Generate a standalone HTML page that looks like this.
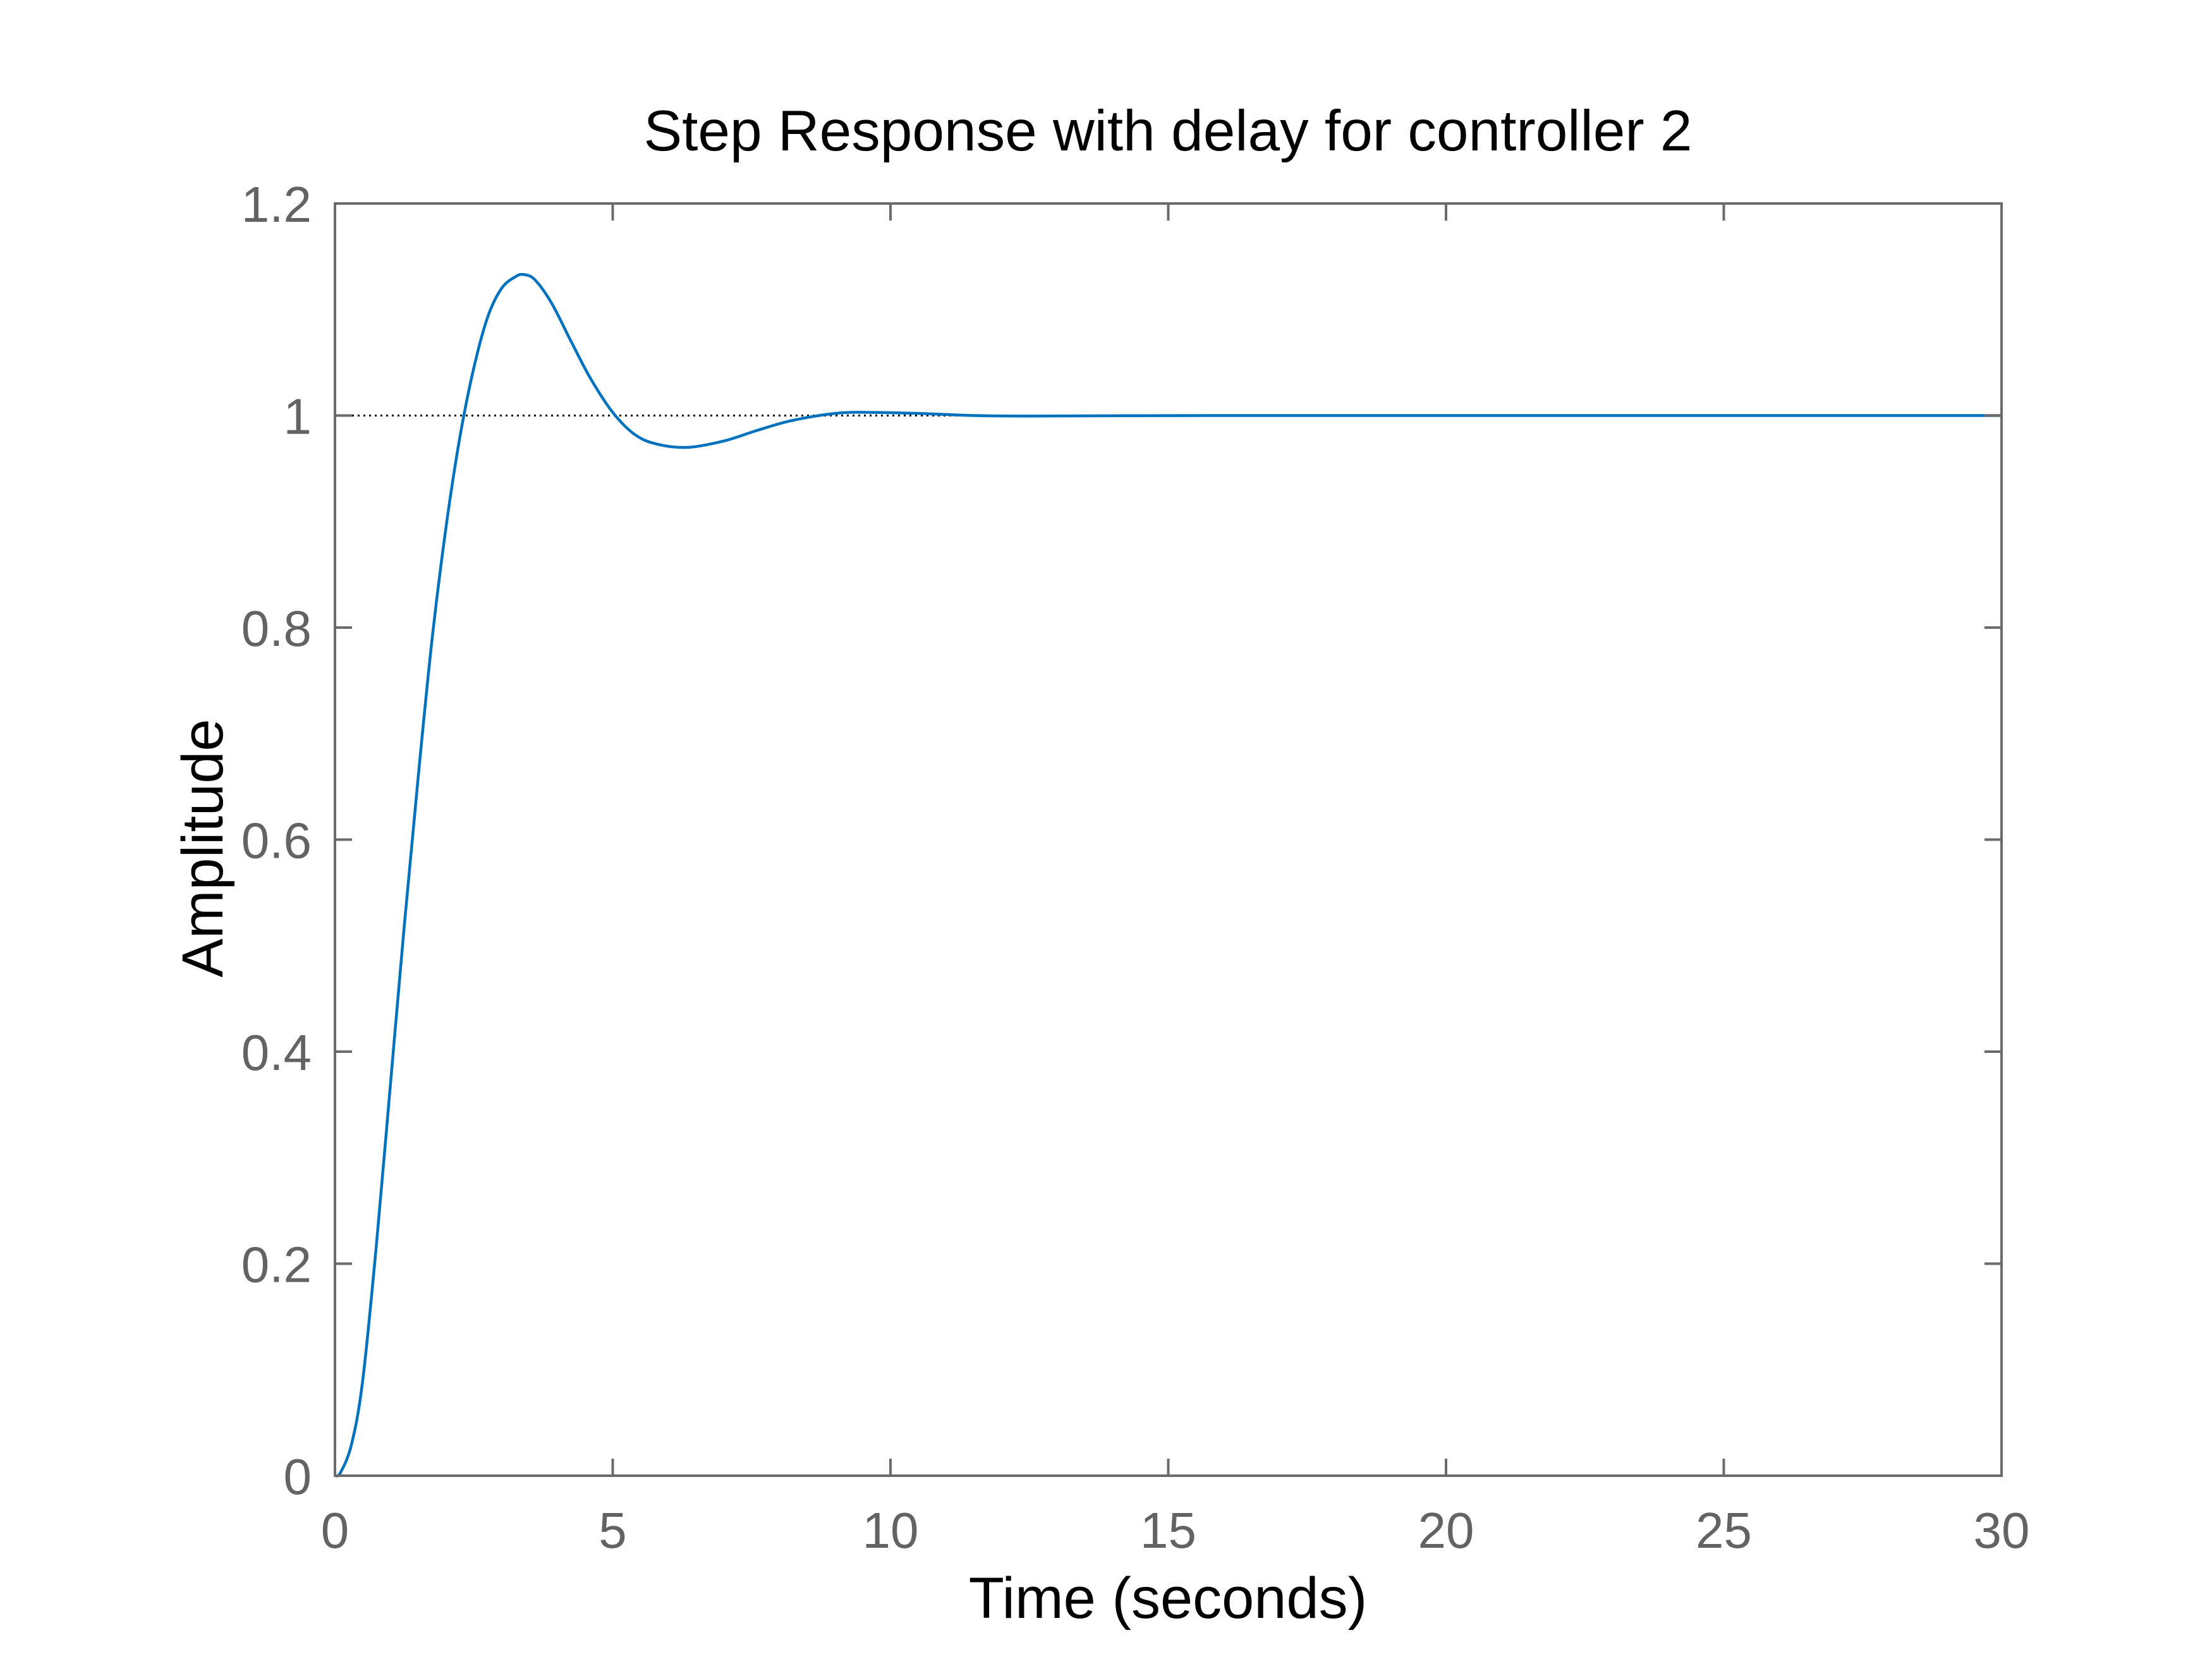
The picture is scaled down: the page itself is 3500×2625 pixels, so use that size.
<!DOCTYPE html>
<html><head><meta charset="utf-8">
<style>
html,body{margin:0;padding:0;background:#fff;}
svg{display:block;font-family:"Liberation Sans",Arial,sans-serif;}
</style></head>
<body>
<svg id="chart" width="3500" height="2625" viewBox="0 0 3500 2625" xmlns="http://www.w3.org/2000/svg">
<rect width="3500" height="2625" fill="#fff"/>
<g id="series"></g>
<g id="axes"></g>
<text x="1848" y="238" font-size="91" text-anchor="middle" fill="#000">Step Response with delay for controller 2</text>
<text x="1848" y="2560" font-size="92" text-anchor="middle" fill="#000">Time (seconds)</text>
<text transform="translate(352,1342) rotate(-90)" font-size="92" text-anchor="middle" fill="#000">Amplitude</text>
</svg>
<script>
const xTicks=[0,5,10,15,20,25,30];
const yTicks=[0,0.2,0.4,0.6,0.8,1,1.2];
const yTickLabels=["0","0.2","0.4","0.6","0.8","1","1.2"];
const timeValues=[0,0.1,0.3,0.5,0.75,1,1.25,1.5,1.75,2,2.25,2.5,2.75,3,3.25,3.4,3.6,3.9,4.25,4.6,5,5.4,5.8,6.35,7,7.6,8.2,9,9.6,10.5,11.5,12.5,14,16,20,25,30];
const amplitudeValues=[0,0.003,0.03,0.09,0.22,0.37,0.52,0.66,0.79,0.895,0.98,1.045,1.093,1.12,1.131,1.133,1.128,1.106,1.07,1.035,1.003,0.982,0.973,0.970,0.976,0.986,0.995,1.002,1.003,1.002,1.0,0.9995,0.9998,1,1,1,1];
const steadyState=1;

const L=530,R=3167,T=322,B=2335,xMax=30,yMax=1.2;
const sx=v=>L+(v/xMax)*(R-L);
const sy=v=>B-(v/yMax)*(B-T);
const NS="http://www.w3.org/2000/svg";
function mk(tag,attrs,parent){const e=document.createElementNS(NS,tag);for(const k in attrs)e.setAttribute(k,attrs[k]);parent.appendChild(e);return e;}
const axes=document.getElementById('axes'),series=document.getElementById('series');
const AX="#6b6b6b";

const ss=mk('line',{x1:sx(0),x2:sx(xMax),y1:sy(steadyState),y2:sy(steadyState),stroke:'#000','stroke-width':3,'stroke-dasharray':'3,6'},series);



const P=timeValues.map((t,i)=>[sx(t),sy(amplitudeValues[i])]);
let d=`M${P[0][0]},${P[0][1]}`;
for(let i=0;i<P.length-1;i++){
  const p0=P[Math.max(0,i-1)],p1=P[i],p2=P[i+1],p3=P[Math.min(P.length-1,i+2)];
  const c1=[p1[0]+(p2[0]-p0[0])/6,p1[1]+(p2[1]-p0[1])/6];
  const c2=[p2[0]-(p3[0]-p1[0])/6,p2[1]-(p3[1]-p1[1])/6];
  d+=` C${c1[0]},${c1[1]} ${c2[0]},${c2[1]} ${p2[0]},${p2[1]}`;
}
const line=mk('path',{d:d,fill:'none',stroke:'#0072BD','stroke-width':4.5,'stroke-linejoin':'round'},series);



const box=mk('rect',{x:L,y:T,width:R-L,height:B-T,fill:'none',stroke:AX,'stroke-width':4},axes);


const TL=27;
xTicks.forEach(v=>{
  const x=sx(v);
  mk('line',{x1:x,x2:x,y1:B,y2:B-TL,stroke:AX,'stroke-width':4},axes);
  mk('line',{x1:x,x2:x,y1:T,y2:T+TL,stroke:AX,'stroke-width':4},axes);
  const t=mk('text',{x:x,y:2449,'font-size':80,'text-anchor':'middle',fill:'#636363'},axes);
  t.textContent=String(v);
  
  
});
yTicks.forEach((v,i)=>{
  const y=sy(v);
  mk('line',{x1:L,x2:L+TL,y1:y,y2:y,stroke:AX,'stroke-width':4},axes);
  mk('line',{x1:R,x2:R-TL,y1:y,y2:y,stroke:AX,'stroke-width':4},axes);
  const t=mk('text',{x:493,y:y+29,'font-size':80,'text-anchor':'end',fill:'#636363'},axes);
  t.textContent=yTickLabels[i];
  
  
});
</script>
</body></html>
